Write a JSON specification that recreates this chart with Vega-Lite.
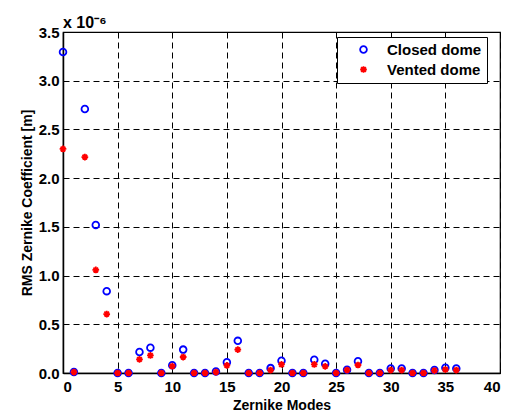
{
  "$schema": "https://vega.github.io/schema/vega-lite/v6.json",
  "autosize": "none",
  "width": 437,
  "height": 341,
  "padding": {"left": 63, "top": 32, "right": 8, "bottom": 38},
  "background": "white",
  "title": {"text": "x 10⁻⁶", "anchor": "start", "frame": "group", "font": "Liberation Sans", "fontSize": 16, "fontWeight": "bold", "color": "black", "offset": -6},
  "config": {
    "font": "Liberation Sans",
    "view": {"stroke": "black", "strokeWidth": 1.2},
    "axis": {
      "labelFont": "Liberation Sans", "labelFontSize": 15, "labelFontWeight": "bold", "labelColor": "black",
      "titleFont": "Liberation Sans", "titleFontSize": 14, "titleFontWeight": "bold", "titleColor": "black",
      "domainColor": "black", "domainWidth": 1.5,
      "tickColor": "black", "tickSize": -5, "tickWidth": 1,
      "grid": true, "gridColor": "black", "gridDash": [6, 4], "gridOpacity": 1, "gridWidth": 1
    }
  },
  "data": {"values": [
    {"mode": 0, "series": "Closed dome", "rms": 3.295},
    {"mode": 1, "series": "Closed dome", "rms": 0.01},
    {"mode": 2, "series": "Closed dome", "rms": 2.71},
    {"mode": 3, "series": "Closed dome", "rms": 1.52},
    {"mode": 4, "series": "Closed dome", "rms": 0.84},
    {"mode": 5, "series": "Closed dome", "rms": 0.0},
    {"mode": 6, "series": "Closed dome", "rms": 0.0},
    {"mode": 7, "series": "Closed dome", "rms": 0.215},
    {"mode": 8, "series": "Closed dome", "rms": 0.26},
    {"mode": 9, "series": "Closed dome", "rms": 0.0},
    {"mode": 10, "series": "Closed dome", "rms": 0.08},
    {"mode": 11, "series": "Closed dome", "rms": 0.24},
    {"mode": 12, "series": "Closed dome", "rms": 0.0},
    {"mode": 13, "series": "Closed dome", "rms": 0.0},
    {"mode": 14, "series": "Closed dome", "rms": 0.015},
    {"mode": 15, "series": "Closed dome", "rms": 0.11},
    {"mode": 16, "series": "Closed dome", "rms": 0.33},
    {"mode": 17, "series": "Closed dome", "rms": 0.0},
    {"mode": 18, "series": "Closed dome", "rms": 0.0},
    {"mode": 19, "series": "Closed dome", "rms": 0.05},
    {"mode": 20, "series": "Closed dome", "rms": 0.126},
    {"mode": 21, "series": "Closed dome", "rms": 0.0},
    {"mode": 22, "series": "Closed dome", "rms": 0.0},
    {"mode": 23, "series": "Closed dome", "rms": 0.136},
    {"mode": 24, "series": "Closed dome", "rms": 0.095},
    {"mode": 25, "series": "Closed dome", "rms": 0.0},
    {"mode": 26, "series": "Closed dome", "rms": 0.034},
    {"mode": 27, "series": "Closed dome", "rms": 0.12},
    {"mode": 28, "series": "Closed dome", "rms": 0.0},
    {"mode": 29, "series": "Closed dome", "rms": 0.0},
    {"mode": 30, "series": "Closed dome", "rms": 0.047},
    {"mode": 31, "series": "Closed dome", "rms": 0.047},
    {"mode": 32, "series": "Closed dome", "rms": 0.0},
    {"mode": 33, "series": "Closed dome", "rms": 0.0},
    {"mode": 34, "series": "Closed dome", "rms": 0.03},
    {"mode": 35, "series": "Closed dome", "rms": 0.054},
    {"mode": 36, "series": "Closed dome", "rms": 0.047},
    {"mode": 0, "series": "Vented dome", "rms": 2.30},
    {"mode": 1, "series": "Vented dome", "rms": 0.01},
    {"mode": 2, "series": "Vented dome", "rms": 2.216},
    {"mode": 3, "series": "Vented dome", "rms": 1.058},
    {"mode": 4, "series": "Vented dome", "rms": 0.605},
    {"mode": 5, "series": "Vented dome", "rms": 0.0},
    {"mode": 6, "series": "Vented dome", "rms": 0.0},
    {"mode": 7, "series": "Vented dome", "rms": 0.14},
    {"mode": 8, "series": "Vented dome", "rms": 0.18},
    {"mode": 9, "series": "Vented dome", "rms": 0.0},
    {"mode": 10, "series": "Vented dome", "rms": 0.07},
    {"mode": 11, "series": "Vented dome", "rms": 0.164},
    {"mode": 12, "series": "Vented dome", "rms": 0.0},
    {"mode": 13, "series": "Vented dome", "rms": 0.0},
    {"mode": 14, "series": "Vented dome", "rms": 0.01},
    {"mode": 15, "series": "Vented dome", "rms": 0.078},
    {"mode": 16, "series": "Vented dome", "rms": 0.24},
    {"mode": 17, "series": "Vented dome", "rms": 0.0},
    {"mode": 18, "series": "Vented dome", "rms": 0.0},
    {"mode": 19, "series": "Vented dome", "rms": 0.03},
    {"mode": 20, "series": "Vented dome", "rms": 0.088},
    {"mode": 21, "series": "Vented dome", "rms": 0.0},
    {"mode": 22, "series": "Vented dome", "rms": 0.0},
    {"mode": 23, "series": "Vented dome", "rms": 0.088},
    {"mode": 24, "series": "Vented dome", "rms": 0.068},
    {"mode": 25, "series": "Vented dome", "rms": 0.0},
    {"mode": 26, "series": "Vented dome", "rms": 0.03},
    {"mode": 27, "series": "Vented dome", "rms": 0.082},
    {"mode": 28, "series": "Vented dome", "rms": 0.0},
    {"mode": 29, "series": "Vented dome", "rms": 0.0},
    {"mode": 30, "series": "Vented dome", "rms": 0.03},
    {"mode": 31, "series": "Vented dome", "rms": 0.03},
    {"mode": 32, "series": "Vented dome", "rms": 0.0},
    {"mode": 33, "series": "Vented dome", "rms": 0.0},
    {"mode": 34, "series": "Vented dome", "rms": 0.025},
    {"mode": 35, "series": "Vented dome", "rms": 0.035},
    {"mode": 36, "series": "Vented dome", "rms": 0.03}
  ]},
  "mark": {"type": "point", "filled": false, "strokeWidth": 1.8, "size": 45, "opacity": 1, "clip": false},
  "encoding": {
    "x": {"field": "mode", "type": "quantitative", "title": "Zernike Modes",
      "scale": {"domain": [0, 40], "nice": false, "zero": false},
      "axis": {"values": [0, 5, 10, 15, 20, 25, 30, 35, 40], "titlePadding": 4, "labelPadding": 11}},
    "y": {"field": "rms", "type": "quantitative", "title": "RMS Zernike Coefficient [m]",
      "scale": {"domain": [0, 3.5], "nice": false},
      "axis": {"values": [0, 0.5, 1, 1.5, 2, 2.5, 3, 3.5], "labelPadding": 9, "titlePadding": 4}},
    "color": {"field": "series", "type": "nominal",
      "scale": {"domain": ["Closed dome", "Vented dome"], "range": ["#0000ff", "#ff0000"]},
      "legend": {"title": null, "orient": "none", "legendX": 274, "legendY": 5,
        "fillColor": "white", "strokeColor": "black", "padding": 5,
        "labelFont": "Liberation Sans", "labelFontSize": 15, "labelFontWeight": "bold", "labelColor": "black",
        "symbolSize": 45, "symbolStrokeWidth": 1.8, "symbolOpacity": 1, "labelOffset": 16, "rowPadding": 4, "symbolOffset": 14}},
    "shape": {"field": "series", "type": "nominal",
      "scale": {"domain": ["Closed dome", "Vented dome"], "range": ["circle", "M-1,0L1,0M0,-1L0,1M-0.7,-0.7L0.7,0.7M-0.7,0.7L0.7,-0.7"]}}
  }
}
